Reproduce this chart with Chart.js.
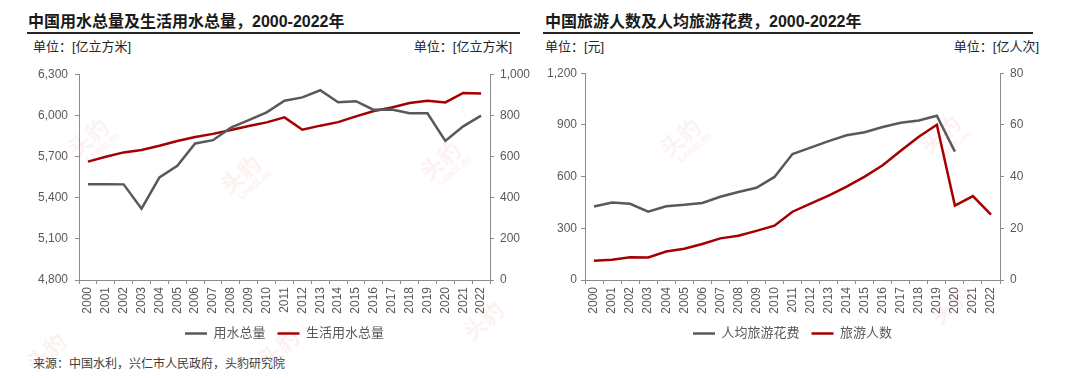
<!DOCTYPE html>
<html>
<head>
<meta charset="utf-8">
<script src="https://cdn.jsdelivr.net/npm/chart.js@4.4.1/dist/chart.umd.min.js"></script>
<style>
  body { margin: 0; width: 1080px; height: 378px; background: #fff; position: relative; overflow: hidden;
         font-family: "Liberation Sans", "Noto Sans CJK SC", sans-serif; }
  .title { position: absolute; top: 8px; font-size: 16px; font-weight: bold; color: #1a1a1a; white-space: nowrap; }
  .rule { position: absolute; top: 32px; height: 2px; background: #262626; }
  .unit { position: absolute; top: 36px; font-size: 13px; color: #262626; white-space: nowrap; }
  .src { position: absolute; top: 354px; left: 33px; font-size: 12px; color: #404040; white-space: nowrap; }
  .box { position: absolute; top: 60px; width: 540px; height: 290px; }
  .wm { position: absolute; color: rgba(225, 60, 60, 0.08); font-weight: bold; font-size: 22px;
        transform: rotate(-40deg); white-space: nowrap; line-height: 1; }
  .wm small { display: block; font-size: 10px; margin-left: 6px; }
</style>
</head>
<body>

<div class="title" style="left:28px">中国用水总量及生活用水总量，2000-2022年</div>
<div class="rule" style="left:27px; width:493px"></div>
<div class="unit" style="left:33px">单位：[亿立方米]</div>
<div class="unit" style="right:568px">单位：[亿立方米]</div>

<div class="title" style="left:545px">中国旅游人数及人均旅游花费，2000-2022年</div>
<div class="rule" style="left:543px; width:490px"></div>
<div class="unit" style="left:545px">单位：[元]</div>
<div class="unit" style="right:41px">单位：[亿人次]</div>

<div class="box" style="left:0"><canvas id="waterChart"></canvas></div>
<div class="box" style="left:540px"><canvas id="travelChart"></canvas></div>

<div class="src">来源：中国水利，兴仁市人民政府，头豹研究院</div>

<div class="wm" style="left:70px; top:125px">头豹<small>LeadLeo</small></div>
<div class="wm" style="left:222px; top:162px">头豹<small>LeadLeo</small></div>
<div class="wm" style="left:422px; top:148px">头豹<small>LeadLeo</small></div>
<div class="wm" style="left:662px; top:125px">头豹<small>LeadLeo</small></div>
<div class="wm" style="left:922px; top:122px">头豹<small>LeadLeo</small></div>
<div class="wm" style="left:25px; top:342px">头豹</div>
<div class="wm" style="left:258px; top:338px">头豹</div>
<div class="wm" style="left:462px; top:310px">头豹</div>
<div class="wm" style="left:930px; top:295px">头豹</div>

<script>

// ─────────────────────────────────────
// DATA
// ─────────────────────────────────────

const years = [
    "2000", "2001", "2002", "2003", "2004", "2005", "2006", "2007",
    "2008", "2009", "2010", "2011", "2012", "2013", "2014", "2015",
    "2016", "2017", "2018", "2019", "2020", "2021", "2022"
];

// 用水总量 (left axis)
const totalWater = [
    5498, 5498, 5497, 5320, 5548, 5633, 5795, 5819,
    5910, 5965, 6022, 6107, 6131, 6183, 6095, 6103,
    6040, 6043, 6015, 6015, 5813, 5920, 5998
];

// 生活用水总量 (right axis)
const domesticWater = [
    575, 599, 620, 632, 652, 675, 695, 710,
    729, 748, 766, 790, 730, 750, 767, 795,
    821, 838, 860, 871, 863, 909, 906
];

// 人均旅游花费 (left axis)
const spendPerTrip = [
    427, 450, 442, 396, 428, 436, 447, 483,
    511, 535, 598, 731, 768, 806, 840, 857,
    888, 913, 926, 953, 745, null, null
];

// 旅游人数 (right axis)
const tourists = [
    7.44, 7.84, 8.78, 8.70, 11.02, 12.12, 13.94, 16.10,
    17.12, 19.02, 21.03, 26.41, 29.57, 32.62, 36.11, 40.00,
    44.40, 50.01, 55.39, 60.06, 28.79, 32.46, 25.30
];

const waterLeftTicks = [4800, 6300, 300];
const waterRightTicks = [0, 1000, 200];
const travelLeftTicks = [0, 1200, 300];
const travelRightTicks = [0, 80, 20];


// ─────────────────────────────────────
// SHARED STYLE
// ─────────────────────────────────────

const GRAY = "#595959";
const RED = "#a50000";
const AXIS = "#8c8c8c";
const FONT = "'Liberation Sans', 'Noto Sans CJK SC', sans-serif";

Chart.defaults.font.family = FONT;
Chart.defaults.color = GRAY;
Chart.defaults.animation = false;

function fmt(v) {
    return v.toLocaleString("en-US");
}

function yAxis(position, range, width, pad) {
    return {
        position: position,
        min: range[0],
        max: range[1],
        afterFit: function(scale) {
            scale.width = width;
        },
        ticks: {
            stepSize: range[2],
            padding: pad,
            font: { size: 12 },
            color: GRAY,
            callback: v => fmt(v)
        },
        grid: {
            drawOnChartArea: false,
            drawTicks: true,
            tickLength: 4,
            color: AXIS
        },
        border: { color: AXIS, width: 1 }
    };
}

function xAxis() {
    return {
        type: "category",
        offset: true,
        afterFit: function(scale) {
            scale.height = 35;
        },
        ticks: {
            minRotation: 90,
            maxRotation: 90,
            autoSkip: false,
            padding: 3,
            font: { size: 12 },
            color: GRAY
        },
        grid: {
            offset: true,
            drawOnChartArea: false,
            drawTicks: true,
            tickLength: 4,
            color: AXIS
        },
        border: { color: AXIS, width: 1 }
    };
}

function lineSet(label, data, color, axis) {
    return {
        label: label,
        data: data,
        borderColor: color,
        backgroundColor: color,
        borderWidth: 2.5,
        pointRadius: 0,
        tension: 0,
        fill: false,
        yAxisID: axis
    };
}

function legendOpts(fullSize) {
    return {
        display: true,
        position: "bottom",
        fullSize: fullSize,
        labels: {
            usePointStyle: true,
            pointStyle: "line",
            pointStyleWidth: 22,
            boxHeight: 13,
            padding: 12,
            color: GRAY,
            font: { size: 13 }
        }
    };
}


// ─────────────────────────────────────
// WATER CHART
// ─────────────────────────────────────

new Chart(document.getElementById("waterChart"), {

    type: "line",

    data: {
        labels: years,
        datasets: [
            lineSet("用水总量", totalWater, GRAY, "y"),
            lineSet("生活用水总量", domesticWater, RED, "y1")
        ]
    },

    options: {
        responsive: true,
        maintainAspectRatio: false,
        layout: { padding: { top: 8, left: 0, right: 0, bottom: 0 } },
        plugins: {
            legend: legendOpts(false),
            tooltip: { enabled: false }
        },
        scales: {
            x: xAxis(),
            y: yAxis("left", waterLeftTicks, 79, 7),
            y1: yAxis("right", waterRightTicks, 50, 6)
        }
    }
});


// ─────────────────────────────────────
// TRAVEL CHART
// ─────────────────────────────────────

new Chart(document.getElementById("travelChart"), {

    type: "line",

    data: {
        labels: years,
        datasets: [
            lineSet("人均旅游花费", spendPerTrip, GRAY, "y"),
            lineSet("旅游人数", tourists, RED, "y1")
        ]
    },

    options: {
        responsive: true,
        maintainAspectRatio: false,
        layout: { padding: { top: 8, left: 0, right: 0, bottom: 0 } },
        plugins: {
            legend: legendOpts(false),
            tooltip: { enabled: false }
        },
        scales: {
            x: xAxis(),
            y: yAxis("left", travelLeftTicks, 45, 4),
            y1: yAxis("right", travelRightTicks, 80, 6)
        }
    }
});

</script>
</body>
</html>
